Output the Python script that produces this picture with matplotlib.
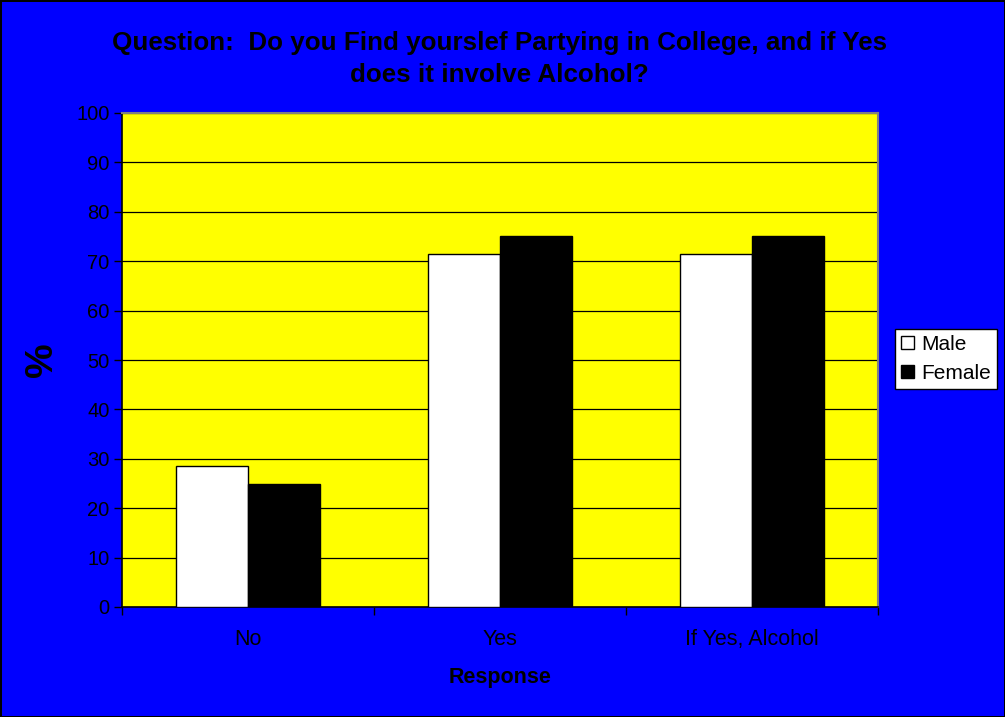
import matplotlib
matplotlib.use("Agg")
import matplotlib.pyplot as plt
from matplotlib import font_manager
import numpy as np

categories = ["No", "Yes", "If Yes, Alcohol"]
male = [28.57, 71.43, 71.43]
female = [25.0, 75.0, 75.0]
series_names = ["Male", "Female"]
yticks = list(range(0, 101, 10))

names = {f.name for f in font_manager.fontManager.ttflist}
fam = ["Liberation Sans Narrow", "Liberation Sans", "DejaVu Sans"]
fam = [f for f in fam if f in names] or ["DejaVu Sans"]
plt.rcParams["font.family"] = fam

W, H = 1005, 717
fig = plt.figure(figsize=(W / 100, H / 100), dpi=100)
fig.patch.set_facecolor("#0000FF")
fig.patch.set_edgecolor("black")
fig.patch.set_linewidth(2)

L, R, T, B = 122, 878, 113, 607
ax = fig.add_axes([L / W, 1 - B / H, (R - L) / W, (B - T) / H])
ax.set_facecolor("#FFFF00")

x = np.arange(len(categories)) + 0.5
bw = 1 / 3.5
ax.bar(x - bw / 2, male, bw, color="white", edgecolor="black", linewidth=1, label=series_names[0], zorder=3)
ax.bar(x + bw / 2, female, bw, color="black", edgecolor="black", linewidth=1, label=series_names[1], zorder=3)

ax.set_xlim(0, len(categories))
ax.set_ylim(0, 100)
ax.set_yticks(yticks)
ax.set_yticklabels([str(v) for v in yticks], fontsize=14.5)
ax.yaxis.grid(True, color="black", linewidth=0.9, zorder=1)
ax.set_axisbelow(True)
ax.set_xticks(range(len(categories) + 1))
ax.set_xticklabels([])
ax.set_xticks(x, minor=True)
ax.set_xticklabels(categories, minor=True, fontsize=15.5)
ax.tick_params(axis="x", which="minor", length=0, pad=16)
ax.tick_params(axis="x", which="major", length=6, direction="out", color="black", width=1)
ax.tick_params(axis="y", length=6, direction="out", color="black", width=1, pad=3)

for s in ["top", "right"]:
    ax.spines[s].set_color("#808080")
    ax.spines[s].set_linewidth(1.5)
ax.spines["left"].set_color("black")
ax.spines["bottom"].set_color("black")
ax.spines["left"].set_linewidth(1.2)
ax.spines["bottom"].set_linewidth(1.2)

ax.set_xlabel("Response", fontsize=15.5, fontweight="bold")
ax.xaxis.set_label_coords(0.5, -(677 - B) / (B - T), transform=ax.transAxes)
ax.xaxis.label.set_va("center")
ax.set_ylabel("%", fontsize=28, fontweight="bold")
ax.yaxis.set_label_coords(-(L - 42) / (R - L), (B - 360) / (B - T), transform=ax.transAxes)
ax.yaxis.label.set_va("center")

fig.text(0.497, 1 - 59 / H, "Question:  Do you Find yourslef Partying in College, and if Yes\ndoes it involve Alcohol?",
         ha="center", va="center", fontsize=18.7, fontweight="bold", linespacing=1.4)

leg = fig.legend(loc="center left", bbox_to_anchor=(895 / W, 1 - 359 / H), fontsize=15,
                 frameon=True, fancybox=False, edgecolor="black", facecolor="white", framealpha=1,
                 handlelength=0.6, handleheight=0.6, handletextpad=0.35, borderpad=0.3,
                 labelspacing=0.5, borderaxespad=0)
leg.get_frame().set_linewidth(1)

fig.savefig("out.png", dpi=100, facecolor=fig.get_facecolor(), edgecolor=fig.get_edgecolor())
